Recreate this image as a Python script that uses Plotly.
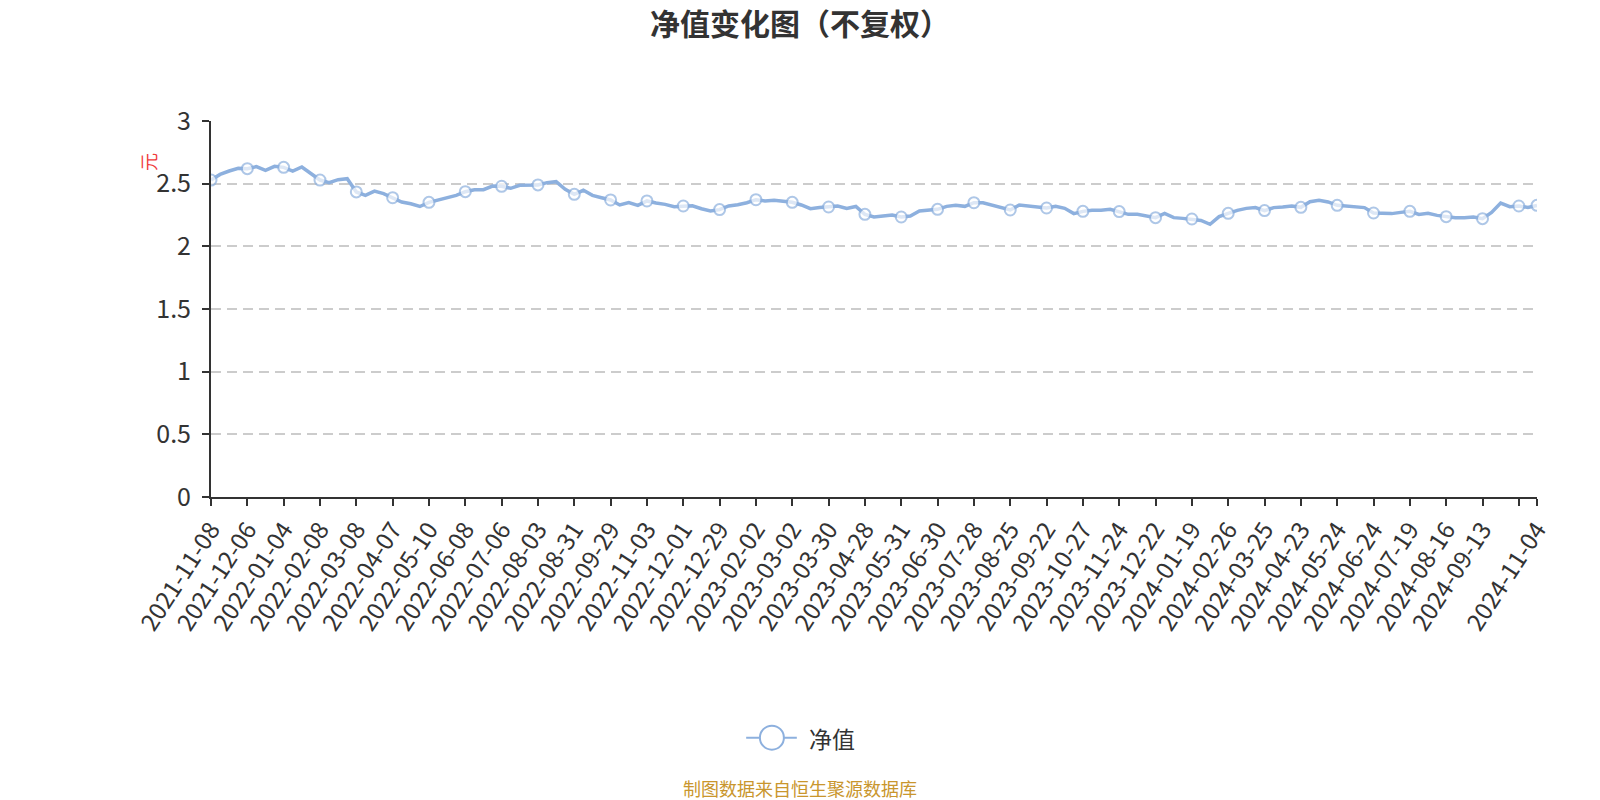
import plotly.graph_objects as go

step = 5
nav = [
    2.529, 2.574, 2.601, 2.622, 2.620, 2.636, 2.606, 2.638, 2.630, 2.601,
    2.633, 2.580, 2.529, 2.508, 2.532, 2.540, 2.434, 2.407, 2.441, 2.420,
    2.388, 2.354, 2.340, 2.318, 2.351, 2.370, 2.388, 2.407, 2.436, 2.452,
    2.452, 2.481, 2.479, 2.463, 2.487, 2.489, 2.490, 2.508, 2.516, 2.455,
    2.415, 2.447, 2.407, 2.388, 2.370, 2.330, 2.350, 2.327, 2.362, 2.346,
    2.335, 2.316, 2.322, 2.324, 2.300, 2.282, 2.293, 2.322, 2.332, 2.348,
    2.372, 2.362, 2.367, 2.362, 2.351, 2.330, 2.300, 2.309, 2.314, 2.322,
    2.303, 2.318, 2.255, 2.234, 2.242, 2.250, 2.234, 2.242, 2.282, 2.287,
    2.295, 2.319, 2.327, 2.319, 2.348, 2.348, 2.327, 2.309, 2.290, 2.330,
    2.324, 2.314, 2.306, 2.319, 2.303, 2.261, 2.279, 2.287, 2.287, 2.295,
    2.277, 2.255, 2.255, 2.242, 2.229, 2.263, 2.229, 2.223, 2.218, 2.207,
    2.176, 2.237, 2.263, 2.287, 2.303, 2.309, 2.285, 2.309, 2.314, 2.322,
    2.311, 2.356, 2.367, 2.354, 2.327, 2.319, 2.314, 2.309, 2.266, 2.266,
    2.261, 2.271, 2.279, 2.255, 2.263, 2.247, 2.237, 2.229, 2.229, 2.234,
    2.221, 2.270, 2.345, 2.316, 2.322, 2.310, 2.327,
]

# x tick labels, one every 20 trading days ('' = hidden label), last one at the end
tick_labels = [
    '2021-11-08', '2021-12-06', '2022-01-04', '2022-02-08', '2022-03-08',
    '2022-04-07', '2022-05-10', '2022-06-08', '2022-07-06', '2022-08-03',
    '2022-08-31', '2022-09-29', '2022-11-03', '2022-12-01', '2022-12-29',
    '2023-02-02', '2023-03-02', '2023-03-30', '2023-04-28', '2023-05-31',
    '2023-06-30', '2023-07-28', '2023-08-25', '2023-09-22', '2023-10-27',
    '2023-11-24', '2023-12-22', '2024-01-19', '2024-02-26', '2024-03-25',
    '2024-04-23', '2024-05-24', '2024-06-24', '2024-07-19', '2024-08-16',
    '2024-09-13', '', '2024-11-04',
]
y_ticks = [0, 0.5, 1, 1.5, 2, 2.5, 3]
y_tick_text = ['0', '0.5', '1', '1.5', '2', '2.5', '3']

x = [i * step for i in range(len(nav))]
last = x[-1]
tick_vals = list(range(0, last, 20)) + [last]

# circles only at the tick positions
show = [(xi % 20 == 0) or xi == last for xi in x]
sizes = [11 if s else 0 for s in show]
widths = [2 if s else 0 for s in show]

blue = '#8db0de'
font = 'Noto Sans CJK SC'

fig = go.Figure()
fig.add_trace(go.Scatter(x=x, y=nav, name='净值', mode='lines+markers', showlegend=False,
                         line=dict(color=blue, width=3.5),
                         marker=dict(size=sizes, color='white',
                                     line=dict(color=blue, width=widths))))

fig.update_layout(
    width=1600, height=800,
    paper_bgcolor='white', plot_bgcolor='white',
    margin=dict(l=211, r=63, t=121, b=303),
    font=dict(family=font, color='#333'),
    title=dict(text='<b>净值变化图（不复权）</b>', x=0.5, xanchor='center',
               y=0.97, yanchor='middle', font=dict(size=30, color='#333')),
)

fig.update_xaxes(range=[0, last], tickmode='array', tickvals=tick_vals, ticktext=tick_labels,
                 tickangle=-57, tickfont=dict(size=24, color='#333'),
                 showline=True, linecolor='#333', linewidth=2,
                 ticks='outside', ticklen=7, tickcolor='#333', tickwidth=2,
                 showgrid=False, zeroline=False)

fig.update_yaxes(range=[0, 3], tickmode='array', tickvals=y_ticks, ticktext=y_tick_text,
                 tickfont=dict(size=25, color='#333'), ticklabelstandoff=6,
                 showline=True, linecolor='#333', linewidth=2,
                 ticks='outside', ticklen=7, tickcolor='#333', tickwidth=2,
                 showgrid=True, gridcolor='#cccccc', griddash='10px,6px', gridwidth=1.5,
                 zeroline=False)

# legend drawn by hand: line + big hollow circle + text
leg_y = -0.64
fig.add_shape(type='line', xref='paper', yref='paper', x0=0.4036, x1=0.4418, y0=leg_y, y1=leg_y,
              line=dict(color=blue, width=2))
fig.add_shape(type='circle', xref='paper', yref='paper', xsizemode='pixel', ysizemode='pixel',
              xanchor=0.4230, yanchor=leg_y, x0=-12, x1=12, y0=-12, y1=12,
              fillcolor='white', line=dict(color=blue, width=2))
fig.add_annotation(text='净值', xref='paper', yref='paper', x=0.4494, y=leg_y,
                   xanchor='left', yanchor='middle', showarrow=False,
                   font=dict(size=23, color='#333'))

# unit label (red, rotated) and data source note (centred on the page, not the plot)
fig.add_annotation(text='元', xref='paper', yref='paper', x=-0.047, y=0.89,
                   xanchor='center', yanchor='middle',
                   textangle=-90, showarrow=False, font=dict(size=18, color='#f03c3c'))
fig.add_annotation(text='制图数据来自恒生聚源数据库', xref='paper', yref='paper',
                   x=0.4442, y=-0.775, xanchor='center', yanchor='middle', showarrow=False,
                   font=dict(size=18, color='#c9962d'))

# page body has an 8px default margin, drop it so the figure sits at 0,0
fig.write_html('out.html', config={'displayModeBar': False},
               post_script="document.body.style.margin='0px';")
